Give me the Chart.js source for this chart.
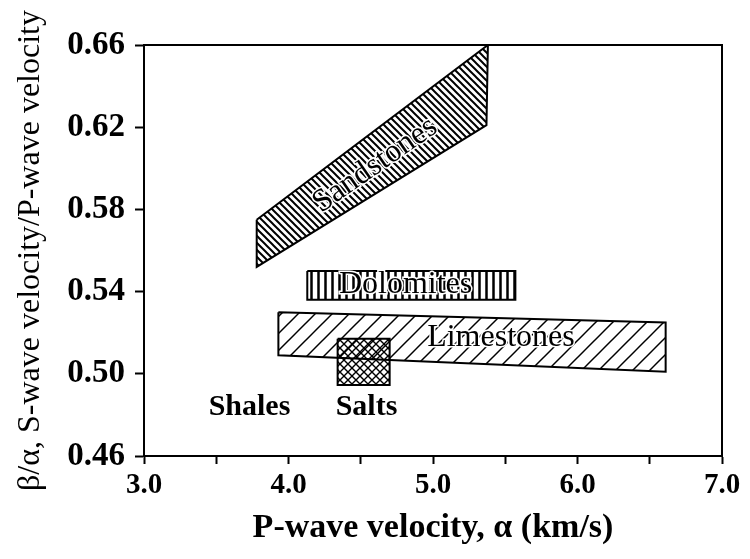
<!DOCTYPE html>
<html>
<head>
<meta charset="utf-8">
<script src="https://cdn.jsdelivr.net/npm/chart.js@4"></script>
<style>
  html, body { margin: 0; padding: 0; background: #fff; }
  #wrap { width: 750px; height: 559px; }
</style>
</head>
<body>
<div id="wrap"><canvas id="chart" width="750" height="559"></canvas></div>
<script>
// Rock fields, vertices in (P-wave velocity, beta/alpha)
const sandstoneX = [3.78, 5.38, 5.37, 3.78, 3.78];
const sandstoneY = [0.575, 0.660, 0.621, 0.552, 0.575];
const dolomiteX = [4.13, 5.57, 5.57, 4.13, 4.13];
const dolomiteY = [0.550, 0.550, 0.536, 0.536, 0.550];
const limestoneX = [3.93, 6.61, 6.61, 3.93, 3.93];
const limestoneY = [0.530, 0.525, 0.501, 0.509, 0.530];
const saltX = [4.34, 4.70, 4.70, 4.34, 4.34];
const saltY = [0.517, 0.517, 0.4945, 0.4945, 0.517];

// Text labels placed in data space
const labelText = ['Sandstones', 'Dolomites', 'Limestones', 'Shales', 'Salts'];
const labelX = [4.60, 4.81, 5.47, 3.73, 4.54];
const labelY = [0.6016, 0.5432, 0.5174, 0.4838, 0.4838];

const xMin = 3.0, xMax = 7.0;
const yMin = 0.46, yMax = 0.66;

const serif = '"Liberation Serif", "Times New Roman", serif';

function toPoints(xs, ys) {
  return xs.map((x, i) => ({ x: x, y: ys[i] }));
}

// hatch patterns
function makePattern(size, draw) {
  const c = document.createElement('canvas');
  c.width = size;
  c.height = size;
  const g = c.getContext('2d');
  g.strokeStyle = '#000';
  g.lineCap = 'square';
  draw(g, size);
  return g.createPattern(c, 'repeat');
}

const backSlash = makePattern(7, (g, p) => {
  g.lineWidth = 2;
  for (let k = -1; k <= 1; k++) {
    g.beginPath();
    g.moveTo(k * p, 0);
    g.lineTo(k * p + p, p);
    g.stroke();
  }
});

const vertical = makePattern(7, (g, p) => {
  g.lineWidth = 2.5;
  g.beginPath();
  g.moveTo(3.5, 0);
  g.lineTo(3.5, p);
  g.stroke();
});

const forwardSlash = makePattern(17, (g, p) => {
  g.lineWidth = 1.5;
  for (let k = -1; k <= 1; k++) {
    g.beginPath();
    g.moveTo(k * p, p);
    g.lineTo(k * p + p, 0);
    g.stroke();
  }
});

const crossHatch = makePattern(8, (g, p) => {
  g.lineWidth = 1.4;
  for (let k = -1; k <= 1; k++) {
    g.beginPath();
    g.moveTo(k * p, 0);
    g.lineTo(k * p + p, p);
    g.moveTo(k * p, p);
    g.lineTo(k * p + p, 0);
    g.stroke();
  }
});

function field(label, xs, ys, pattern) {
  return {
    label: label,
    data: toPoints(xs, ys),
    showLine: true,
    fill: 'shape',
    tension: 0,
    borderColor: '#000',
    borderWidth: 2,
    backgroundColor: pattern,
    pointRadius: 0,
    pointHoverRadius: 0
  };
}

const frameAndLabels = {
  id: 'frameAndLabels',
  afterDatasetsDraw(chart) {
    const { ctx, chartArea, scales } = chart;
    ctx.save();
    ctx.strokeStyle = '#000';
    ctx.lineWidth = 2;
    ctx.strokeRect(chartArea.left, chartArea.top,
      chartArea.right - chartArea.left, chartArea.bottom - chartArea.top);

    ctx.textAlign = 'center';
    ctx.textBaseline = 'middle';
    labelText.forEach((t, i) => {
      const px = scales.x.getPixelForValue(labelX[i]);
      const py = scales.y.getPixelForValue(labelY[i]);
      ctx.save();
      ctx.translate(px, py);
      if (i === 0) ctx.rotate(-35 * Math.PI / 180);
      if (i >= 3) {
        ctx.font = 'bold 30px ' + serif;
      } else {
        ctx.font = '32px ' + serif;
        ctx.lineWidth = 3;
        ctx.strokeStyle = '#fff';
        ctx.strokeText(t, 0, 0);
      }
      ctx.fillStyle = '#000';
      ctx.fillText(t, 0, 0);
      ctx.restore();
    });
    ctx.restore();
  }
};

new Chart(document.getElementById('chart').getContext('2d'), {
  type: 'scatter',
  data: {
    datasets: [
      field('Limestones', limestoneX, limestoneY, forwardSlash),
      field('Salts', saltX, saltY, crossHatch),
      field('Dolomites', dolomiteX, dolomiteY, vertical),
      field('Sandstones', sandstoneX, sandstoneY, backSlash)
    ]
  },
  options: {
    responsive: false,
    animation: false,
    layout: {
      padding: { top: 45, right: 28, bottom: 0, left: 0 }
    },
    plugins: {
      legend: { display: false },
      tooltip: { enabled: false }
    },
    scales: {
      x: {
        type: 'linear',
        min: xMin,
        max: xMax,
        afterFit: (s) => { s.height = 103; },
        ticks: {
          stepSize: 0.5,
          padding: 4,
          color: '#000',
          font: { family: serif, size: 29, weight: 'bold' },
          callback: (v) => (Math.abs(v - Math.round(v)) < 1e-6 ? v.toFixed(1) : '')
        },
        grid: {
          drawOnChartArea: false,
          tickLength: 8,
          tickColor: '#000',
          tickWidth: 2
        },
        border: { display: true, color: '#000', width: 2 },
        title: {
          display: true,
          text: 'P-wave velocity, \u03b1 (km/s)',
          color: '#000',
          font: { family: serif, size: 34, weight: 'bold' },
          padding: { top: 0, bottom: 10 }
        }
      },
      y: {
        type: 'linear',
        min: yMin,
        max: yMax,
        afterFit: (s) => { s.width = 144; },
        ticks: {
          stepSize: 0.02,
          padding: 10,
          color: '#000',
          font: { family: serif, size: 33, weight: 'bold' },
          callback: (v) => ((Math.round(v * 100) - 46) % 4 === 0 ? v.toFixed(2) : '')
        },
        grid: {
          drawOnChartArea: false,
          tickLength: 9,
          tickColor: '#000',
          tickWidth: 2
        },
        border: { display: true, color: '#000', width: 2 },
        title: {
          display: true,
          text: '\u03b2/\u03b1, S-wave velocity/P-wave velocity',
          color: '#000',
          font: { family: serif, size: 32 },
          padding: { top: 11, bottom: 0 }
        }
      }
    }
  },
  plugins: [frameAndLabels]
});
</script>
</body>
</html>
